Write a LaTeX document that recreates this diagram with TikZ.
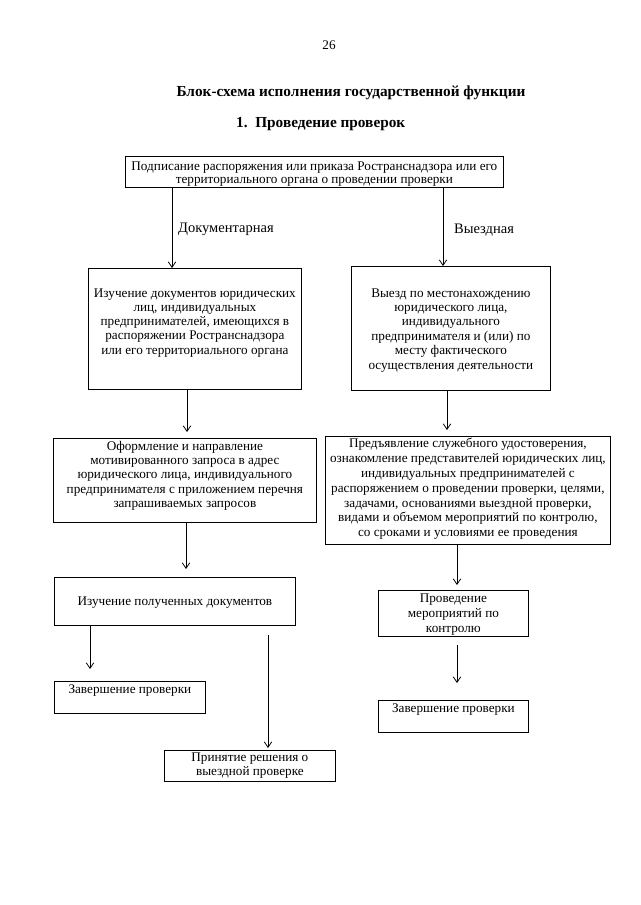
\documentclass[tikz,border=0pt]{standalone}
\usepackage{fontspec}
\setmainfont{Liberation Serif}
\usetikzlibrary{arrows.meta}
% #1 width, #2 height, #3 top pad, #4 baselineskip, #5 text
\newcommand\bxt[5]{\parbox[c][#2pt][t]{#1pt}{\vspace*{#3pt}\centering\fontsize{13.2}{#4}\selectfont #5\par}}
\tikzset{
  box/.style={draw, line width=0.8pt, inner sep=0pt, anchor=north west},
  arr/.style={draw, line width=0.8pt, -{Straight Barb[length=5.5pt,width=7.5pt]}},
  lbl/.style={inner sep=0pt, anchor=west, font=\fontsize{14.5}{16}\selectfont},
  ttl/.style={inner sep=0pt, font=\fontsize{15.3}{17}\selectfont\bfseries}
}
\begin{document}
\begin{tikzpicture}[x=1pt,y=-1pt]
\useasboundingbox (0,0) rectangle (640,905);
\fill[white] (0,0) rectangle (640,905);
\node[inner sep=0pt, font=\fontsize{13.2}{14}\selectfont] (pg) at (329,45) {26};
\node[ttl] (title) at (351,93) {Блок-схема исполнения государственной функции};
\node[ttl, anchor=west] (sub) at (236,124) {1.\ \ Проведение проверок};

\node[box] (top) at (125,156) {\bxt{378}{31}{5}{13.5}{Подписание распоряжения или приказа Ространснадзора или его\\территориального органа о проведении проверки}};

\node[box] (L2) at (88,268) {\bxt{213}{121}{20}{14.3}{Изучение документов юридических\\лиц, индивидуальных\\предпринимателей, имеющихся в\\распоряжении Ространснадзора\\или его территориального органа}};
\node[box] (R2) at (351,266) {\bxt{199}{124}{22}{14.4}{Выезд по местонахождению\\юридического лица,\\индивидуального\\предпринимателя и (или) по\\месту фактического\\осуществления деятельности}};

\node[box] (L3) at (53,438) {\bxt{263}{84}{3}{14.2}{Оформление и направление\\мотивированного запроса в адрес\\юридического лица, индивидуального\\предпринимателя с приложением перечня\\запрашиваемых запросов}};
\node[box] (R3) at (325,436) {\bxt{285}{108}{2}{14.8}{Предъявление служебного удостоверения,\\ознакомление представителей юридических лиц,\\индивидуальных предпринимателей с\\распоряжением о проведении проверки, целями,\\задачами, основаниями выездной проверки,\\видами и объемом мероприятий по контролю,\\со сроками и условиями ее проведения}};

\node[box] (L4) at (54,577) {\bxt{241}{48}{19}{14}{Изучение полученных документов}};
\node[box] (R4) at (378,590) {\bxt{150}{46}{3}{15}{Проведение\\мероприятий по\\контролю}};

\node[box] (Lend) at (54,681) {\bxt{151}{32}{3}{14}{Завершение проверки}};
\node[box] (Rend) at (378,700) {\bxt{150}{32}{3}{14}{Завершение проверки}};
\node[box] (dec) at (164,750) {\bxt{171}{31}{2}{14.3}{Принятие решения о\\выездной проверке}};

\node[lbl] (ldoc) at (178,229) {Документарная};
\node[lbl] (lvyez) at (454,230) {Выездная};

\draw[arr] (top.south -| 172,0) -- (L2.north -| 172,0);
\draw[arr] (top.south -| 443,0) -- (R2.north -| 443,0);
\draw[arr, shorten >=6pt] (L2.south -| 187,0) -- (L3.north -| 187,0);
\draw[arr, shorten >=6pt] (R2.south -| 447,0) -- (R3.north -| 447,0);
\draw[arr, shorten >=8pt] (L3.south -| 186,0) -- (L4.north -| 186,0);
\draw[arr, shorten >=5pt] (R3.south -| 457,0) -- (R4.north -| 457,0);
\draw[arr, shorten >=12pt] (L4.south -| 90,0) -- (Lend.north -| 90,0);
\draw[arr, shorten <=9pt, shorten >=2pt] (L4.south -| 268,0) -- (dec.north -| 268,0);
\draw[arr, shorten <=8pt, shorten >=17pt] (R4.south -| 457,0) -- (Rend.north -| 457,0);
\end{tikzpicture}
\end{document}
